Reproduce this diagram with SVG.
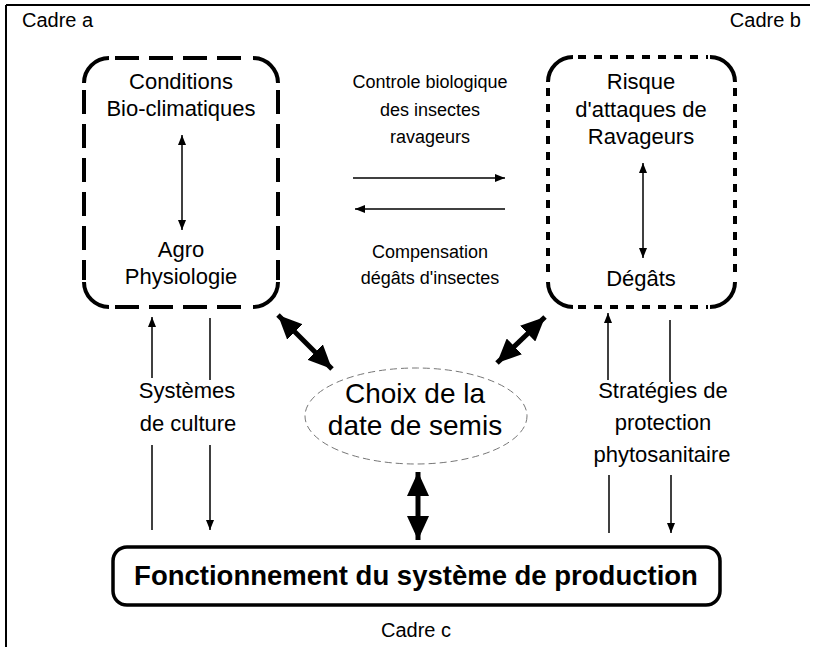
<svg xmlns="http://www.w3.org/2000/svg" width="813" height="647" viewBox="0 0 813 647">
<style>
text{font-family:"Liberation Sans",Arial,sans-serif;fill:#000;text-anchor:middle}
.lbl{font-size:22px}
.sm{font-size:18px}
.big{font-size:28px}
.bold{font-size:27.5px;font-weight:bold}
.frame{stroke:#000;stroke-width:2;fill:none}
.thin{stroke:#000;stroke-width:1.5;fill:none}
.thick{stroke:#000;stroke-width:5;fill:none}
.dashA{stroke:#000;stroke-width:4;fill:none;stroke-dasharray:24 10}
.dashB{stroke:#000;stroke-width:4;fill:none;stroke-dasharray:8 8}
.solid{stroke:#000;stroke-width:4;fill:none}
</style>
<defs>
<marker id="ah" markerUnits="userSpaceOnUse" markerWidth="10" markerHeight="8" refX="10" refY="4" orient="auto-start-reverse"><path d="M0,0 L10,4 L0,8 z" fill="#000"/></marker>
<marker id="AH" markerUnits="userSpaceOnUse" markerWidth="24" markerHeight="22" refX="24" refY="11" orient="auto-start-reverse"><path d="M0,0 L24,11 L0,22 z" fill="#000"/></marker>
</defs>

<g id="frame">
<line class="frame" x1="6" y1="5" x2="810" y2="5"/>
<line class="frame" x1="6" y1="5" x2="6" y2="647"/>
<text x="22" y="27" style="text-anchor:start;font-size:20px">Cadre a</text>
<text x="801" y="27" style="text-anchor:end;font-size:20px">Cadre b</text>
<text x="416" y="637" style="font-size:20px">Cadre c</text>
</g>

<g id="nodeA">
<path class="solid" d="M84,83 A25,25 0 0 1 109,58 M253,58 A25,25 0 0 1 278,83 M278,282 A25,25 0 0 1 253,307 M109,307 A25,25 0 0 1 84,282"/>
<line class="dashA" x1="115" y1="58" x2="250" y2="58"/>
<line class="dashA" x1="115" y1="307" x2="250" y2="307"/>
<line class="dashA" x1="84" y1="90" x2="84" y2="280"/>
<line class="dashA" x1="278" y1="90" x2="278" y2="280"/>
<text class="lbl" x="181" y="89">Conditions</text>
<text class="lbl" x="181" y="116">Bio-climatiques</text>
<text class="lbl" x="181" y="257">Agro</text>
<text class="lbl" x="181" y="284">Physiologie</text>
</g>

<g id="nodeB">
<path class="solid" d="M548,82 A25,25 0 0 1 573,57 M710,57 A25,25 0 0 1 735,82 M735,282 A25,25 0 0 1 710,307 M573,307 A25,25 0 0 1 548,282"/>
<line class="dashB" x1="578" y1="57" x2="708" y2="57"/>
<line class="dashB" x1="578" y1="307" x2="708" y2="307"/>
<line class="dashB" x1="548" y1="88" x2="548" y2="280"/>
<line class="dashB" x1="735" y1="88" x2="735" y2="280"/>
<text class="lbl" x="641" y="89">Risque</text>
<text class="lbl" x="641" y="117">d'attaques de</text>
<text class="lbl" x="641" y="144">Ravageurs</text>
<text class="lbl" x="641" y="286">Dégâts</text>
</g>

<g id="nodeC">
<ellipse cx="416" cy="416" rx="111" ry="48" fill="none" stroke="#777" stroke-width="1" stroke-dasharray="7 4"/>
<text class="big" x="415" y="403">Choix de la</text>
<text class="big" x="415" y="435">date de semis</text>
</g>

<g id="nodeD">
<rect x="113" y="547" width="607" height="58" rx="14" class="solid" style="stroke-width:3.5"/>
<text class="bold" x="416" y="585">Fonctionnement du système de production</text>
</g>

<g id="labels">
<text class="sm" x="430" y="88">Controle biologique</text>
<text class="sm" x="430" y="116">des insectes</text>
<text class="sm" x="430" y="143">ravageurs</text>
<text class="sm" x="430" y="258">Compensation</text>
<text class="sm" x="430" y="284">dégâts d'insectes</text>
<text class="lbl" x="187" y="398">Systèmes</text>
<text class="lbl" x="188" y="431">de culture</text>
<text class="lbl" x="663" y="398">Stratégies de</text>
<text class="lbl" x="663" y="430">protection</text>
<text class="lbl" x="662" y="462">phytosanitaire</text>
</g>

<g id="connectors">
<line class="thin" x1="182" y1="135" x2="182" y2="230" marker-start="url(#ah)" marker-end="url(#ah)"/>
<line class="thin" x1="643" y1="163" x2="643" y2="258" marker-start="url(#ah)" marker-end="url(#ah)"/>
<line class="thin" x1="353" y1="178" x2="505" y2="178" marker-end="url(#ah)"/>
<line class="thin" x1="505" y1="209" x2="355" y2="209" marker-end="url(#ah)"/>
<line class="thick" x1="278" y1="315" x2="332" y2="369" marker-start="url(#AH)" marker-end="url(#AH)"/>
<line class="thick" x1="545" y1="317" x2="497" y2="363" marker-start="url(#AH)" marker-end="url(#AH)"/>
<line class="thick" x1="418" y1="472" x2="418" y2="540" marker-start="url(#AH)" marker-end="url(#AH)"/>
<line class="thin" x1="152" y1="378" x2="152" y2="317" marker-end="url(#ah)"/>
<line class="thin" x1="152" y1="530" x2="152" y2="445"/>
<line class="thin" x1="210" y1="318" x2="210" y2="380"/>
<line class="thin" x1="210" y1="445" x2="210" y2="530" marker-end="url(#ah)"/>
<line class="thin" x1="608" y1="380" x2="608" y2="313" marker-end="url(#ah)"/>
<line class="thin" x1="609" y1="533" x2="609" y2="475"/>
<line class="thin" x1="670" y1="320" x2="670" y2="382"/>
<line class="thin" x1="671" y1="475" x2="671" y2="533" marker-end="url(#ah)"/>
</g>
</svg>
